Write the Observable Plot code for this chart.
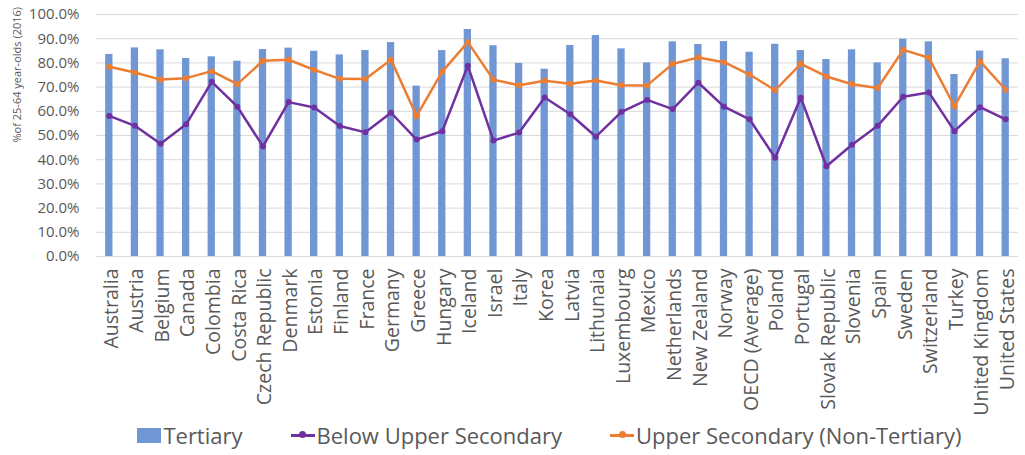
<!DOCTYPE html>
<html>
<head>
<meta charset="utf-8">
<script src="https://cdn.jsdelivr.net/npm/d3@7"></script>
<script src="https://cdn.jsdelivr.net/npm/@observablehq/plot@0.6"></script>
<style>
  body { margin: 0; background: white; font-family: "Open Sans", sans-serif; }
  #legend { display: flex; justify-content: center; align-items: center; height: 40px; font-size: 22px; color: #595959; padding-left: 74px; }
  .item { display: flex; align-items: center; margin-right: 48px; white-space: nowrap; }
  .item:last-child { margin-right: 0; }
  .sq { width: 24px; height: 15px; margin-right: 2px; }
  .ln { position: relative; width: 24px; height: 3px; margin-right: 2px; }
  .ln span { position: absolute; left: 8.5px; top: -2.5px; width: 7px; height: 7px; border-radius: 50%; }
</style>
</head>
<body>
<div id="chart"></div>
<div id="legend">
  <div class="item"><div class="sq" style="background:#7097D3"></div>Tertiary</div>
  <div class="item"><div class="ln" style="background:#7030A0"><span style="background:#7030A0"></span></div>Below Upper Secondary</div>
  <div class="item"><div class="ln" style="background:#ED7D31"><span style="background:#ED7D31"></span></div>Upper Secondary (Non-Tertiary)</div>
</div>
<script>
const countries = ["Australia","Austria","Belgium","Canada","Colombia","Costa Rica","Czech Republic","Denmark","Estonia","Finland","France","Germany","Greece","Hungary","Iceland","Israel","Italy","Korea","Latvia","Lithunaia","Luxembourg","Mexico","Netherlands","New Zealand","Norway","OECD (Average)","Poland","Portugal","Slovak Republic","Slovenia","Spain","Sweden","Switzerland","Turkey","United Kingdom","United States"];
const tertiary = [83.5,86.2,85.4,81.8,82.5,80.7,85.5,86.1,84.8,83.3,85.1,88.4,70.4,85.1,93.8,87.1,79.8,77.4,87.2,91.3,85.8,80.0,88.7,87.6,88.8,84.4,87.7,85.1,81.4,85.4,80.0,89.8,88.7,75.2,84.9,81.7];
const belowUpper = [58.1,54.0,46.6,54.6,72.2,61.9,45.5,63.8,61.6,53.9,51.3,59.4,48.3,51.8,78.8,47.9,51.2,65.7,58.8,49.5,59.8,64.7,60.9,71.8,61.9,56.7,40.8,65.6,37.3,46.2,54.0,66.0,67.8,51.8,61.7,56.7];
const upperSecondary = [78.4,76.0,73.1,73.7,76.6,71.2,80.9,81.3,77.1,73.4,73.3,81.3,58.1,76.4,88.6,73.0,70.8,72.6,71.4,72.7,70.8,70.7,79.6,82.2,80.3,75.2,68.7,79.6,74.4,71.2,69.6,85.4,82.1,62.1,80.6,68.9];
const yTicks = [0,0.1,0.2,0.3,0.4,0.5,0.6,0.7,0.8,0.9,1.0];
const yLabel = "%of 25-64 year-olds (2016)";

const rows = countries.map((c, i) => ({
  country: c,
  tertiary: tertiary[i] / 100,
  below: belowUpper[i] / 100,
  upper: upperSecondary[i] / 100
}));

const chart = Plot.plot({
  width: 1025,
  height: 415,
  marginTop: 14,
  marginBottom: 159,
  marginLeft: 96,
  marginRight: 7,
  style: { fontFamily: "Open Sans", color: "#595959", background: "white" },
  x: { domain: countries, paddingInner: 0.715, paddingOuter: 0.3575, round: false, label: null },
  y: { domain: [0, 1], label: null },
  marks: [
    Plot.gridY(yTicks, { stroke: "#d9d9d9", strokeOpacity: 1, strokeWidth: 1 }),
    Plot.axisY(yTicks, { tickFormat: d3.format(".1%"), tickSize: 0, tickPadding: 17, fontSize: 15, label: null }),
    Plot.axisX({ tickRotate: -90, tickSize: 0, tickPadding: 12, fontSize: 19.5, dx: 2, label: null }),
    Plot.barY(rows, { x: "country", y: "tertiary", fill: "#7097D3" }),
    Plot.line(rows, { x: "country", y: "below", stroke: "#7030A0", strokeWidth: 2.5 }),
    Plot.dot(rows, { x: "country", y: "below", fill: "#7030A0", r: 3 }),
    Plot.line(rows, { x: "country", y: "upper", stroke: "#ED7D31", strokeWidth: 2.5 }),
    Plot.dot(rows, { x: "country", y: "upper", fill: "#ED7D31", r: 3 }),
    Plot.text([yLabel], { frameAnchor: "left", rotate: -90, dx: -79, dy: 7, fontSize: 11, fill: "#595959" })
  ]
});
document.getElementById("chart").appendChild(chart);
</script>
</body>
</html>
